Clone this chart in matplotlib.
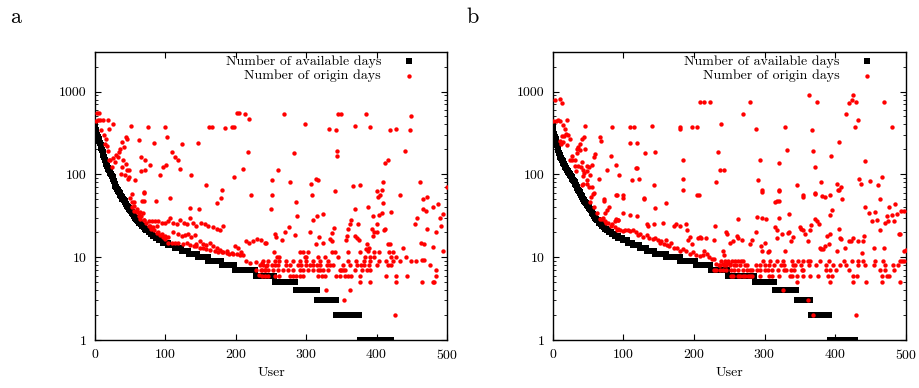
import matplotlib
matplotlib.use("Agg")
import matplotlib.pyplot as plt
import numpy as np
from matplotlib.ticker import LogLocator, NullFormatter, FixedLocator, FixedFormatter

plt.rcParams['font.family'] = ['cmr10', 'DejaVu Serif']
plt.rcParams['axes.formatter.use_mathtext'] = True

# ---- panel a: number of available days (sorted), head values then (value, count) runs
avail_a_head = [380, 340, 320, 300, 285, 270, 255, 240, 225, 210,
                198, 185, 172, 160, 150, 140, 132, 126, 120, 116,
                112, 108, 104, 100, 96, 92, 87, 82, 77, 73,
                70, 67, 65, 63, 61, 59, 57, 55, 53, 51,
                50, 49, 48, 46, 44, 42, 41, 40, 39, 38,
                37, 36, 35, 34, 33, 32, 31, 30, 29, 29,
                28, 27, 27, 26, 26, 25, 25, 24, 24, 23,
                23, 22, 22, 21, 21, 21]
avail_a_runs = [(20, 3), (19, 3), (18, 4), (17, 5), (16, 6), (15, 7), (14, 9),
                (13, 10), (12, 10), (11, 13), (10, 15), (9, 19), (8, 19), (7, 29),
                (6, 27), (5, 30), (4, 31), (3, 27), (2, 33), (1, 46)]

# ---- panel b
avail_b_head = [380, 340, 310, 285, 265, 245, 225, 210, 195, 182,
                172, 164, 156, 149, 143, 137, 132, 127, 122, 118,
                114, 111, 107, 104, 101, 98, 95, 92, 89, 86,
                83, 80, 77, 74, 71, 68, 65, 63, 61, 59,
                57, 55, 53, 51, 49, 48, 47, 45, 44, 43,
                42, 40, 39, 38, 37, 35, 34, 33, 32, 31,
                30, 29, 29, 28, 28, 27, 26, 26, 25, 25,
                24, 24, 23, 23, 22, 22, 22, 21, 21, 21]
avail_b_runs = [(20, 4), (19, 4), (18, 5), (17, 6), (16, 7), (15, 8), (14, 9),
                (13, 10), (12, 12), (11, 16), (10, 20), (9, 22), (8, 21), (7, 24),
                (6, 38), (5, 29), (4, 31), (3, 20), (2, 27), (1, 36)]

# ---- number of origin days (user, days)
origin_a = [
    (3, 548), (6, 548), (1, 440), (4, 450), (7, 450), (11, 450), (19, 450), (20, 355), (25, 400),
    (13, 295), (16, 270), (17, 217), (8, 340), (51, 379), (75, 372), (99, 372), (102, 282),
    (63, 262), (44, 285), (41, 213), (38, 245), (46, 270), (36, 204), (34, 186), (30, 169),
    (26, 158), (22, 147), (20, 150), (24, 122), (33, 163), (40, 150), (39, 122), (44, 134),
    (45, 112), (49, 112), (42, 97), (47, 88), (65, 162), (71, 147), (78, 128), (65, 110),
    (71, 112), (84, 238), (96, 122), (101, 128), (93, 97), (110, 186), (113, 162), (118, 147),
    (123, 235), (121, 116), (136, 97), (147, 238), (162, 372), (166, 372), (185, 365),
    (195, 372), (197, 372), (202, 548), (205, 548), (213, 530), (219, 470), (218, 186),
    (210, 117), (197, 94),
    (268, 540), (298, 408), (332, 355), (342, 342), (345, 540), (350, 540), (370, 385),
    (385, 540), (390, 372), (419, 340), (427, 355), (449, 512), (447, 340), (441, 190),
    (344, 190), (344, 165), (412, 138), (416, 150), (283, 180), (260, 114),
    (158, 74), (181, 65), (222, 56), (52, 58), (69, 61), (57, 85), (49, 93), (107, 52),
    (87, 48), (67, 48), (179, 52),
    (252, 86), (277, 81), (314, 89), (317, 86), (307, 76), (341, 63), (367, 73), (376, 74),
    (409, 81), (461, 81), (400, 63), (408, 64), (308, 57), (251, 56), (433, 56), (466, 51),
    (472, 53), (402, 53), (405, 56), (500, 71),
    (55, 46), (70, 60), (70, 48), (135, 39), (148, 38), (173, 45), (250, 38), (285, 46),
    (287, 31), (310, 28), (316, 31), (324, 33), (370, 38), (388, 40), (395, 31), (403, 32),
    (408, 34), (409, 45), (421, 35), (454, 25), (458, 30), (466, 38), (470, 36), (480, 40),
    (487, 44), (490, 30), (494, 33),
    (14, 230), (19, 190), (28, 140), (37, 100), (50, 52), (53, 47),
    (56, 42), (59, 38), (62, 34), (66, 31), (70, 28), (73, 26), (76, 24), (80, 22),
    (84, 21), (88, 19.5), (92, 18.5), (96, 17.5), (100, 16.5),
    (52, 40), (56, 36), (60, 35), (64, 35), (68, 34), (64, 29), (69, 28), (62, 31),
    (76, 27), (81, 27), (85, 27), (90, 27), (95, 26), (99, 26), (104, 27), (78, 24), (83, 23),
    (88, 23.5), (106, 30), (111, 26), (116, 25), (121, 28), (126, 26), (130, 25), (135, 30),
    (139, 26), (144, 24), (151, 26), (156, 25), (161, 24), (168, 23), (173, 22), (177, 21),
    (182, 24), (90, 20), (95, 19), (99, 18), (104, 17.5), (111, 20), (118, 19), (123, 18),
    (128, 18.5), (132, 19), (137, 17.5), (142, 18.5),
    (144, 14.6), (149, 15.5), (154, 14.6), (158, 14.2), (163, 14.8), (168, 13.8), (173, 12.8),
    (177, 12.2), (182, 11.7), (187, 12), (194, 11.3), (199, 13.5), (203, 13), (208, 11.5),
    (215, 15.6), (219, 15), (225, 15.6), (230, 16.5), (236, 16), (215, 9), (220, 8.5),
    (229, 8.7), (234, 8), (237, 8.5), (243, 7.8), (236, 7), (241, 7), (229, 7), (233, 6.1),
    (104, 15), (109, 14.8), (113, 14.8), (118, 14.8), (125, 14.5), (130, 14.7), (135, 14.2),
    (140, 13.6), (144, 13.5), (149, 13), (154, 13), (158, 12.4), (163, 12.3), (170, 12),
    (175, 11.5), (180, 11.4), (187, 11.2), (191, 11), (196, 11), (201, 10.8), (206, 10.5),
    (210, 10.7),
    (241, 15), (243, 15), (255, 19), (257, 17.5), (266, 16), (270, 20), (276, 23), (284, 18.4),
    (305, 20), (314, 14.6), (318, 17.5), (324, 15), (334, 16.5), (336, 15.5), (337, 19.4),
    (339, 22.8), (356, 16), (358, 18), (360, 22), (362, 25), (364, 28), (370, 18), (372, 17),
    (374, 25), (375, 16), (385, 12.5), (387, 14.6), (388, 12), (389, 13), (394, 22), (395, 18),
    (397, 20), (401, 25), (401, 20), (410, 21), (412, 22), (416, 14.5), (419, 14.5), (437, 13),
    (463, 15), (467, 14.6), (471, 22), (480, 13.2), (494, 12), (491, 24), (484, 20),
    (254, 11.5), (291, 11.5), (296, 11.5), (303, 11.5), (336, 11.5), (341, 11.5), (360, 11.5),
    (377, 11.5), (396, 11.5), (403, 11.5), (418, 11.5), (424, 11.5),
    (258, 10), (262, 10), (298, 10), (300, 10), (317, 10), (326, 10), (345, 10), (383, 10),
    (390, 10), (397, 10), (421, 10), (428, 10), (442, 10),
    (239, 9), (246, 9), (255, 9), (262, 9), (272, 9), (281, 9), (291, 9), (300, 9), (310, 9),
    (320, 9), (331, 9), (359, 9), (371, 9), (382, 9), (391, 9), (403, 9), (414, 9), (423, 9),
    (433, 9), (449, 9), (456, 9), (464, 9.2), (468, 9.2),
    (239, 8), (244, 8), (251, 8), (255, 8), (260, 8), (272, 8), (277, 8), (288, 8), (293, 8),
    (300, 8), (305, 8), (310, 8), (315, 8), (320, 8), (329, 8), (334, 8), (338, 8), (352, 8),
    (362, 8), (372, 8), (378, 8), (382, 8), (389, 8), (401, 8), (416, 8), (420, 8), (476, 8),
    (237, 7), (241, 7), (246, 7), (253, 7), (260, 7), (267, 7), (274, 7), (281, 7), (291, 7),
    (296, 7), (303, 7), (310, 7), (317, 7), (319, 7), (324, 7), (331, 7), (348, 7), (350, 7),
    (352, 7), (355, 7), (369, 7), (379, 7), (386, 7), (390, 7), (485, 7),
    (237, 6), (241, 6), (246, 6), (255, 6), (262, 6), (277, 6), (281, 6), (286, 6), (291, 6),
    (296, 6), (317, 6), (322, 6), (326, 6), (343, 6), (348, 6), (355, 6), (360, 6), (364, 6),
    (376, 6), (414, 6), (428, 6), (443, 6), (485, 6),
    (480, 5), (328, 4), (362, 4), (354, 3), (426, 2), (428, 5), (377, 5), (390, 5), (465, 5),
    (482, 5),
]

origin_b = [
    (3, 780), (11, 810), (13, 720), (1, 440), (5, 440), (8, 450), (11, 440), (20, 450),
    (15, 390), (17, 355), (19, 310), (13, 290), (16, 290), (46, 380), (84, 375), (110, 375),
    (115, 375), (141, 380), (180, 375), (181, 355), (198, 375), (205, 375), (208, 750),
    (214, 750), (223, 750), (239, 410), (67, 280), (68, 255), (110, 240), (119, 240),
    (44, 280), (41, 265), (38, 230), (36, 215), (34, 200), (22, 295), (25, 270), (20, 225),
    (10, 255), (15, 245), (27, 165), (34, 180), (39, 195), (46, 204), (31, 147), (27, 150),
    (32, 125), (36, 125), (41, 140), (43, 112), (40, 122), (48, 125), (45, 105), (49, 110),
    (52, 122), (58, 160), (60, 175), (55, 128), (53, 97), (49, 85), (48, 77), (43, 76),
    (33, 110), (43, 95), (52, 70), (55, 70),
    (82, 165), (89, 128), (94, 97), (77, 112), (66, 88), (119, 118), (122, 88), (118, 118),
    (131, 180), (145, 186), (185, 147), (184, 88), (184, 65), (207, 56), (143, 74), (129, 51),
    (113, 86), (99, 56), (91, 56), (72, 50), (57, 58), (234, 184), (237, 113), (243, 113),
    (232, 81),
    (363, 910), (374, 750), (426, 920), (419, 720), (424, 790), (429, 740), (469, 750),
    (415, 540), (270, 540), (280, 750), (288, 355), (329, 370), (367, 340), (428, 372),
    (433, 450), (480, 372), (406, 245), (332, 195), (369, 190), (293, 150), (320, 138),
    (372, 122), (394, 165), (442, 143), (291, 86), (346, 74), (380, 81), (434, 88), (437, 76),
    (450, 84), (466, 94), (461, 74), (402, 76), (408, 70), (405, 64), (297, 62), (320, 63),
    (354, 54), (372, 58), (381, 55), (385, 54), (393, 56), (410, 50), (463, 51), (320, 48),
    (90, 56), (99, 52), (129, 52), (160, 45), (205, 56), (145, 39), (58, 60), (54, 53),
    (72, 48), (77, 37), (80, 40), (100, 34), (110, 32), (120, 31), (90, 29), (93, 28),
    (88, 27), (92, 28), (74, 34), (71, 30), (74, 27), (134, 25), (135, 24), (144, 25),
    (156, 26), (172, 24), (175, 25), (180, 24), (189, 25), (190, 21), (194, 17.5),
    (191, 16), (198, 14.5), (206, 17), (208, 17.5), (210, 17), (217, 17), (228, 16),
    (230, 24), (241, 11.8), (245, 20),
    (67, 29), (75, 26), (79, 26), (84, 25), (88, 23), (93, 22), (95, 21), (99, 20.5),
    (102, 21.5), (106, 21), (110, 20.5), (114, 21.5), (118, 20), (121, 18.5), (124, 19),
    (128, 17.5), (133, 18.5), (137, 17), (142, 16.5), (145, 17), (149, 16), (152, 15),
    (154, 15.5), (157, 14.5), (160, 16), (162, 14), (165, 13.5), (168, 15), (172, 13),
    (176, 13), (180, 12), (184, 12.5), (189, 12), (194, 11), (199, 11.5), (203, 10.5),
    (208, 10.2), (213, 10.5), (215, 12), (218, 11), (221, 10), (225, 9.5), (229, 9.5),
    (232, 8.2), (236, 8), (241, 8.2), (243, 10.5), (247, 8.5), (251, 8.2),
    (12, 230), (24, 150), (42, 75), (53, 46), (58, 40), (63, 34), (70, 29), (82, 24), (91, 21),
    (297, 64), (320, 64), (355, 57), (372, 60), (404, 64), (315, 47), (318, 48), (335, 33),
    (297, 30), (302, 29), (263, 28.6), (320, 29.6), (288, 20), (290, 30.5), (247, 19),
    (261, 18), (255, 15.5), (251, 15), (263, 17), (268, 16.3), (279, 14.6), (282, 16),
    (295, 13.5), (297, 12), (301, 15), (305, 11.5), (307, 11.8), (315, 23), (317, 17),
    (318, 21), (325, 19), (329, 11.8), (333, 19.5), (334, 20), (338, 15.6), (341, 17.5),
    (350, 23), (352, 22), (355, 21), (358, 19), (361, 15.5), (365, 21), (366, 24.5),
    (371, 29), (375, 27), (377, 25), (378, 13), (380, 12.5), (383, 12.5), (386, 13.5),
    (388, 18), (392, 14.5), (393, 32), (395, 37), (393, 19), (403, 12), (405, 22),
    (407, 17), (409, 16.5), (414, 13), (420, 15.5), (423, 15.5), (425, 17), (432, 15.5),
    (439, 15.5), (441, 18), (438, 11.3), (442, 40), (448, 34), (452, 27.5), (455, 13),
    (457, 35), (460, 28), (464, 21), (469, 13), (470, 26), (473, 31), (475, 27), (477, 40),
    (480, 32), (484, 27), (485, 44), (487, 33), (490, 19), (492, 19), (494, 36), (497, 12),
    (498, 36), (500, 12.2),
    (239, 9), (244, 9), (249, 9), (254, 9), (258, 9), (263, 9), (267, 9), (269, 9), (298, 9),
    (308, 9), (318, 9), (326, 9), (339, 9), (347, 9), (354, 9), (361, 9), (365, 9), (379, 9),
    (391, 9), (412, 9), (424, 9), (432, 9), (440, 9), (456, 9), (468, 9), (492, 9), (495, 9),
    (497, 9),
    (237, 8), (242, 8), (246, 8), (251, 8), (257, 8), (260, 8), (265, 8), (272, 8), (275, 8),
    (288, 8), (293, 8), (301, 8), (307, 8), (313, 8), (324, 8), (328, 8), (340, 8), (343, 8),
    (352, 8), (363, 8), (373, 8), (387, 8), (397, 8), (407, 8), (415, 8), (432, 8), (443, 8),
    (455, 8), (471, 8), (482, 8), (489, 8),
    (228, 7), (232, 7), (237, 7), (241, 7), (245, 7), (253, 7), (257, 7), (263, 7), (270, 7),
    (275, 7), (279, 7), (282, 7), (289, 7), (293, 7), (301, 7), (305, 7), (310, 7), (319, 7),
    (327, 7), (331, 7), (338, 7), (342, 7), (353, 7), (355, 7), (387, 7), (393, 7), (401, 7),
    (419, 7), (464, 7), (471, 7), (484, 7),
    (252, 6), (256, 6), (262, 6), (265, 6), (269, 6), (272, 6), (277, 6), (279, 6), (283, 6),
    (294, 6), (306, 6), (310, 6), (320, 6), (336, 6), (339, 6), (346, 6), (355, 6), (365, 6),
    (376, 6), (390, 6), (396, 6), (426, 6), (431, 6), (467, 6), (473, 6), (476, 6),
    (346, 5), (393, 5), (425, 5), (444, 5), (467, 5), (492, 5),
    (326, 4), (361, 3), (368, 2), (430, 2),
]


def expand(head, runs):
    vals = list(head)
    for v, n in runs:
        vals += [v] * n
    return np.array(vals, dtype=float)


fig = plt.figure(figsize=(9.19, 3.88), dpi=100)
ax_a = fig.add_axes([95 / 919, 48 / 388, 352 / 919, 288 / 388])
ax_b = fig.add_axes([552.7 / 919, 48 / 388, 353 / 919, 288 / 388])

panels = [(ax_a, avail_a_head, avail_a_runs, origin_a, 'a', 10 / 919),
          (ax_b, avail_b_head, avail_b_runs, origin_b, 'b', 466 / 919)]

for ax, head, runs, origin, tag, tagx in panels:
    avail = expand(head, runs)
    users = np.arange(len(avail))
    ox, oy = zip(*origin)
    ax.scatter(users, avail, marker='s', s=18, c='black', linewidths=0,
               label='Number of available days', zorder=2)
    ax.scatter(ox, oy, marker='o', s=10, c='red', linewidths=0,
               label='Number of origin days', zorder=3)
    ax.set_yscale('log')
    ax.set_xlim(0, 500)
    ax.set_ylim(1, 3000)
    ax.xaxis.set_major_locator(FixedLocator([0, 100, 200, 300, 400, 500]))
    ax.yaxis.set_major_locator(FixedLocator([1, 10, 100, 1000]))
    ax.yaxis.set_major_formatter(FixedFormatter(['1', '10', '100', '1000']))
    ax.yaxis.set_minor_locator(LogLocator(base=10, subs=np.arange(2, 10)))
    ax.yaxis.set_minor_formatter(NullFormatter())
    ax.tick_params(which='major', direction='in', top=True, right=True,
                   length=4.5, width=0.8, labelsize=10, pad=6)
    ax.tick_params(which='minor', direction='in', left=True, right=True,
                   length=2.5, width=0.6)
    for sp in ax.spines.values():
        sp.set_linewidth(1.0)
    ax.set_xlabel('User', fontsize=10, labelpad=3)
    leg = ax.legend(loc='upper right', bbox_to_anchor=(0.931, 0.99), frameon=False,
                    markerfirst=False, fontsize=10, handlelength=2.0, handletextpad=1.0,
                    labelspacing=0.15, borderaxespad=0, borderpad=0, scatterpoints=1)
    fig.text(tagx, 0.955, tag, fontsize=16, va='center', ha='left')

fig.savefig('out.png', dpi=100)
